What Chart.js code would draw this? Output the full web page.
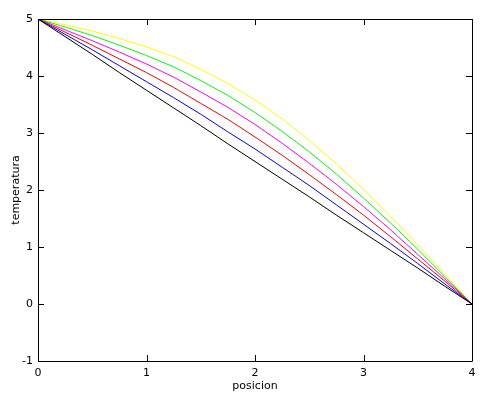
<!DOCTYPE html>
<html>
<head>
<meta charset="utf-8">
<script src="https://cdn.jsdelivr.net/npm/chart.js@4/dist/chart.umd.min.js"></script>
<style>
  html, body { margin: 0; padding: 0; background: #fff; }
  canvas { display: block; }
</style>
</head>
<body>
<canvas id="chart" width="501" height="399"></canvas>
<script>
// posicion (x) sampled every 0.25
const posicion = [0, 0.25, 0.5, 0.75, 1, 1.25, 1.5, 1.75, 2, 2.25, 2.5, 2.75, 3, 3.25, 3.5, 3.75, 4];

// temperatura curves
const tempBlack   = [5, 4.69, 4.38, 4.06, 3.75, 3.44, 3.13, 2.81, 2.50, 2.19, 1.88, 1.56, 1.25, 0.94, 0.63, 0.31, 0];
const tempBlue    = [5, 4.73, 4.46, 4.18, 3.90, 3.62, 3.33, 3.02, 2.72, 2.40, 2.08, 1.74, 1.40, 1.06, 0.71, 0.35, 0];
const tempRed     = [5, 4.77, 4.54, 4.30, 4.06, 3.80, 3.52, 3.24, 2.93, 2.61, 2.27, 1.92, 1.56, 1.18, 0.79, 0.40, 0];
const tempMagenta = [5, 4.81, 4.62, 4.42, 4.21, 3.98, 3.72, 3.45, 3.15, 2.82, 2.47, 2.10, 1.71, 1.30, 0.87, 0.44, 0];
const tempGreen   = [5, 4.86, 4.71, 4.54, 4.36, 4.16, 3.92, 3.66, 3.36, 3.03, 2.67, 2.28, 1.86, 1.42, 0.96, 0.48, 0];
const tempYellow  = [5, 4.90, 4.79, 4.66, 4.51, 4.34, 4.12, 3.87, 3.58, 3.25, 2.87, 2.46, 2.01, 1.54, 1.04, 0.52, 0];

const xTicks = [0, 1, 2, 3, 4];
const yTicks = [-1, 0, 1, 2, 3, 4, 5];

const series = [
  { data: tempBlack,   color: '#000000' },
  { data: tempBlue,    color: '#0000ff' },
  { data: tempRed,     color: '#ff0000' },
  { data: tempMagenta, color: '#ff00ff' },
  { data: tempGreen,   color: '#00ff00' },
  { data: tempYellow,  color: '#ffff00' },
];

Chart.defaults.font.family = "'DejaVu Sans', sans-serif";
Chart.defaults.font.size = 11;
Chart.defaults.color = '#000';

/* gnuplot-style frame: box + inward mirrored ticks */
const frame = {
  id: 'frame',
  afterDraw(chart) {
    const { ctx, chartArea: a, scales: { x, y } } = chart;
    const len = 6;
    ctx.save();
    ctx.strokeStyle = '#000';
    ctx.lineWidth = 1;
    ctx.beginPath();
    ctx.rect(a.left + 0.5, a.top + 0.5, a.right - a.left, a.bottom - a.top);
    xTicks.forEach(v => {
      const px = Math.round(x.getPixelForValue(v)) + 0.5;
      ctx.moveTo(px, a.bottom); ctx.lineTo(px, a.bottom - len);
      ctx.moveTo(px, a.top);    ctx.lineTo(px, a.top + len);
    });
    yTicks.forEach(v => {
      const py = Math.round(y.getPixelForValue(v)) + 0.5;
      ctx.moveTo(a.left, py);  ctx.lineTo(a.left + len, py);
      ctx.moveTo(a.right, py); ctx.lineTo(a.right - len, py);
    });
    ctx.stroke();
    ctx.restore();
  },
};

new Chart(document.getElementById('chart'), {
  type: 'line',
  data: {
    datasets: series.map(s => ({
      data: posicion.map((x, i) => ({ x, y: s.data[i] })),
      borderColor: s.color,
      borderWidth: 1,
      pointRadius: 0,
      tension: 0,
      fill: false,
    })),
  },
  options: {
    responsive: false,
    animation: false,
    layout: { padding: { top: 19, right: 29, left: 0, bottom: 0 } },
    plugins: { legend: { display: false }, tooltip: { enabled: false } },
    scales: {
      x: {
        type: 'linear', min: 0, max: 4,
        afterFit: s => { s.height = 38; },
        afterBuildTicks: s => { s.ticks = xTicks.map(v => ({ value: v })); },
        ticks: { padding: 6, maxRotation: 0 },
        grid: { display: false, drawTicks: false },
        border: { display: false },
        title: { display: true, text: 'posicion', padding: { top: 0, bottom: 6 } },
      },
      y: {
        type: 'linear', min: -1, max: 5,
        afterFit: s => { s.width = 38; },
        afterBuildTicks: s => { s.ticks = yTicks.map(v => ({ value: v })); },
        ticks: { padding: 5 },
        grid: { display: false, drawTicks: false },
        border: { display: false },
        title: { display: true, text: 'temperatura', padding: { top: 10, bottom: 0 } },
      },
    },
  },
  plugins: [frame],
});
</script>
</body>
</html>
